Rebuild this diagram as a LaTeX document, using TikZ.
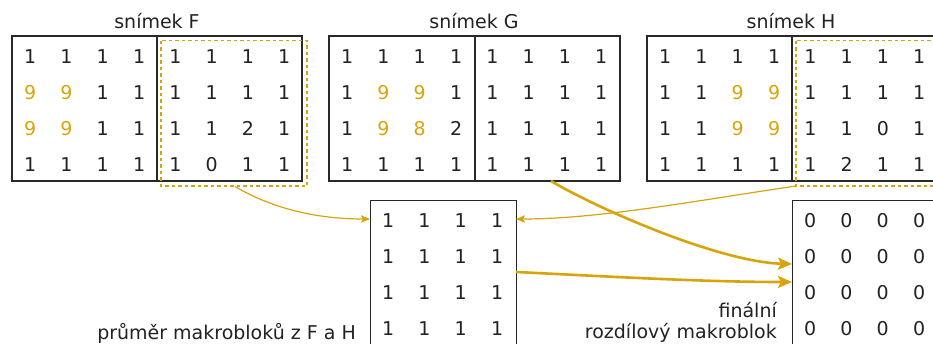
\documentclass[tikz,border=0pt]{standalone}
\usepackage{fontspec}
\setmainfont{DejaVu Sans}
\usetikzlibrary{arrows.meta}
\definecolor{gold}{RGB}{216,164,12}
\definecolor{ink}{RGB}{34,34,34}
\definecolor{edge}{RGB}{40,40,40}
\newcommand{\hl}[1]{\textcolor{gold}{#1}}
\tikzset{
  x=1pt, y=-1pt,
  every node/.style={font=\fontsize{19}{22}\selectfont, text=ink, inner sep=0pt},
  frame/.style={draw=edge, line width=1.4pt, minimum height=145pt, inner sep=0pt},
  pick/.style={draw=gold, dash pattern=on 3.5pt off 3pt, line width=1.6pt},
  cellnum/.style={anchor=base},
  caption/.style={anchor=base},
  thinflow/.style={draw=gold, line width=1.2pt, -{Stealth[length=9pt,width=7.5pt,inset=2pt]}},
  thickflow/.style={draw=gold, line width=2.6pt, -{Stealth[length=14pt,width=12pt,inset=3pt]}}
}
% \numgrid{left x}{top y}{row 1}{row 2}{row 3}{row 4}
\newcommand{\numgrid}[6]{%
  \foreach \rowvals [count=\rr] in {{#3},{#4},{#5},{#6}}{%
    \foreach \v [count=\cc] in \rowvals {%
      \node[cellnum] at ({#1+(\cc-0.5)*36.3}, {#2+27+(\rr-1)*36.3}) {\v};
    }%
  }%
}
\begin{document}
\begin{tikzpicture}
\useasboundingbox (0,0) rectangle (933,343);
\clip (0,0) rectangle (933,343);
\fill[white] (0,0) rectangle (933,343);

% the three frames, each split into two macroblocks
\node[frame, minimum width=290pt] (F) at (157,108.5) {};
\node[frame, minimum width=291pt] (G) at (474.5,108.5) {};
\node[frame, minimum width=290pt] (H) at (792,108.5) {};
\draw[edge, line width=1.4pt] (F.north) -- (F.south);
\draw[edge, line width=1.4pt] (475,36) coordinate (Gt) -- (475,181) coordinate (Gb);
\draw[edge, line width=1.4pt] (H.north) -- (H.south);

\node[caption] (capF) at (157,28) {snímek F};
\node[caption] (capG) at (474,28) {snímek G};
\node[caption] (capH) at (791,28) {snímek H};

% selected macroblocks of F and H
\draw[pick] (161,40.5) coordinate (pFtl) rectangle (307,186) coordinate (pFbr);
\draw[pick] (796,40.5) coordinate (pHtl) rectangle (942,186) coordinate (pHbr);

% frame contents
\numgrid{12}{36}{1,1,1,1,1,1,1,1}{\hl{9},\hl{9},1,1,1,1,1,1}{\hl{9},\hl{9},1,1,1,1,2,1}{1,1,1,1,1,0,1,1}
\numgrid{329}{36}{1,1,1,1,1,1,1,1}{1,\hl{9},\hl{9},1,1,1,1,1}{1,\hl{9},\hl{8},2,1,1,1,1}{1,1,1,1,1,1,1,1}
\numgrid{647}{36}{1,1,1,1,1,1,1,1}{1,1,\hl{9},\hl{9},1,1,1,1}{1,1,\hl{9},\hl{9},1,1,0,1}{1,1,1,1,1,2,1,1}

% averaged macroblock and final difference macroblock
\node[frame, minimum width=146pt, minimum height=146pt, anchor=north west] (M) at (370,200) {};
\node[frame, minimum width=146pt, minimum height=146pt, anchor=north west] (R) at (792,200) {};
\numgrid{370}{200}{1,1,1,1}{1,1,1,1}{1,1,1,1}{1,1,1,1}
\numgrid{792}{200}{0,0,0,0}{0,0,0,0}{0,0,0,0}{0,0,0,0}

\node[anchor=base east] (capM) at (356,339) {průměr makrobloků z F a H};
\node[anchor=base east] (capR1) at (777,317.5) {finální};
\node[anchor=base east] (capR2) at (777,338) {rozdílový makroblok};

% data flow
\coordinate (fOut) at (235,186.5);
\coordinate (hOut) at (796,186);
\coordinate (gOut) at (551,181);
\coordinate (mIn1) at (370,219);
\coordinate (mIn2) at (516,219);
\coordinate (mOut) at (516,272);
\coordinate (rIn1) at (792,264);
\coordinate (rIn2) at (792,282);
\draw[thinflow] (fOut) .. controls (275,210) and (320,219) .. (mIn1);
\draw[thinflow] (hOut) .. controls (700,200) and (600,219) .. (mIn2);
\draw[thickflow] (gOut) .. controls (600,210) and (720,262) .. (rIn1);
\draw[thickflow] (mOut) .. controls (600,276) and (700,282) .. (rIn2);
\end{tikzpicture}
\end{document}
